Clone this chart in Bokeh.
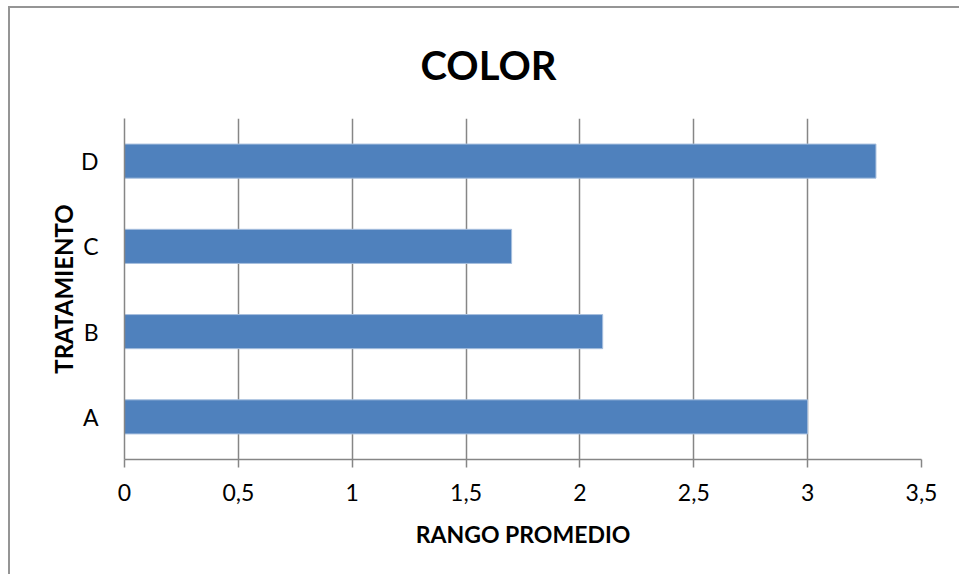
from bokeh.plotting import figure
from bokeh.models import FactorRange, Range1d, FixedTicker, Title, ColumnDataSource
from bokeh.embed import file_html
from bokeh.resources import INLINE

# Data
categories = ["A", "B", "C", "D"]
values = [3.0, 2.1, 1.7, 3.3]
x_ticks = [0, 0.5, 1, 1.5, 2, 2.5, 3, 3.5]
x_tick_labels = ["0", "0,5", "1", "1,5", "2", "2,5", "3", "3,5"]
title_text = "COLOR"
x_label = "RANGO PROMEDIO"
y_label = "TRATAMIENTO"

FONT = "Lato"
GRAY = "#868686"

p = figure(width=951, height=568, output_backend="svg", toolbar_location=None,
           y_range=FactorRange(*categories, range_padding=0),
           x_range=Range1d(0, 3.5),
           min_border_left=114, min_border_right=40, min_border_top=110, min_border_bottom=117)
p.styles = {"margin-left": "8px", "margin-top": "6px",
            "border-left": "2px solid #959595", "border-top": "2px solid #959595"}

src = ColumnDataSource(dict(cat=categories, val=values))
p.hbar(y="cat", right="val", left=0, height=0.4, source=src,
       fill_color="#4F81BD", line_color="#A7BFDE", line_width=1)

p.outline_line_color = None
p.background_fill_color = "white"
p.border_fill_color = "white"

# grid
p.ygrid.grid_line_color = None
p.xgrid.grid_line_color = GRAY
p.xgrid.grid_line_width = 1.5
p.xgrid.ticker = FixedTicker(ticks=x_ticks)

# x axis
xa = p.xaxis[0]
xa.ticker = FixedTicker(ticks=x_ticks)
xa.major_label_overrides = {t: l for t, l in zip(x_ticks, x_tick_labels)}
xa.axis_line_color = GRAY
xa.axis_line_width = 1.5
xa.major_tick_line_color = GRAY
xa.major_tick_line_width = 1.5
xa.major_tick_in = 0
xa.major_tick_out = 8
xa.minor_tick_line_color = None
xa.major_label_text_font = FONT
xa.major_label_text_font_size = "23px"
xa.major_label_text_color = "black"
xa.major_label_standoff = 16
xa.axis_label = x_label
xa.axis_label_text_font = FONT
xa.axis_label_text_font_style = "bold"
xa.axis_label_text_font_size = "23px"
xa.axis_label_text_color = "black"
xa.axis_label_standoff = 16

# y axis
ya = p.yaxis[0]
ya.axis_line_color = GRAY
ya.axis_line_width = 1.5
ya.major_tick_line_color = None
ya.minor_tick_line_color = None
ya.major_label_text_font = FONT
ya.major_label_text_font_size = "23px"
ya.major_label_text_color = "black"
ya.major_label_standoff = 20
ya.axis_label = y_label
ya.axis_label_text_font = FONT
ya.axis_label_text_font_style = "bold"
ya.axis_label_text_font_size = "24px"
ya.axis_label_text_color = "black"
ya.axis_label_standoff = 0

# title, placed to be centred over the whole chart
p.add_layout(Title(text=title_text, text_font=FONT, text_font_style="bold",
                   text_font_size="40px", text_color="black", align="left",
                   offset=296, standoff=60), "above")

out = file_html(p, INLINE)
open("out.html", "w").write(out)
